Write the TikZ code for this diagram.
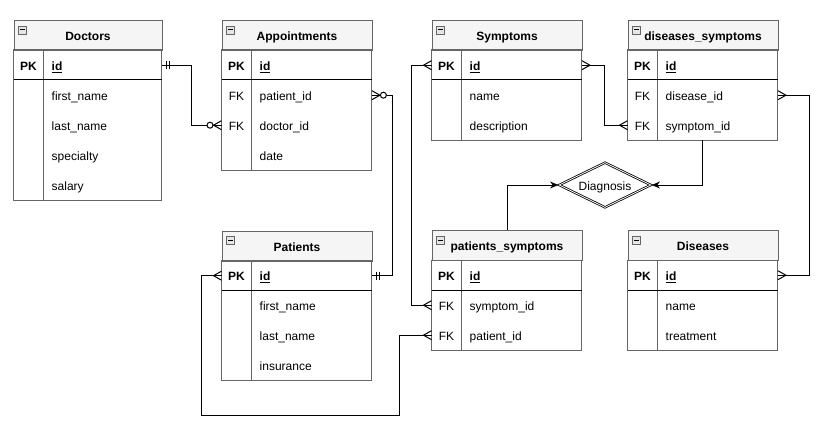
\documentclass[tikz,border=0pt]{standalone}
\usepackage{fontspec}
\setmainfont{Liberation Sans}
\usetikzlibrary{shapes.geometric,arrows.meta,calc}
\definecolor{tborder}{HTML}{666666}
\definecolor{thead}{HTML}{F5F5F5}
\definecolor{iconfill}{HTML}{E6E6E6}
\tikzset{
  hdr/.style={draw=tborder, fill=thead, line width=1pt, minimum height=30pt, inner sep=0pt,
    font=\fontsize{12}{14}\selectfont\bfseries, text height=10.2pt, text depth=0pt},
  rowbox/.style={minimum height=30pt, inner sep=0pt},
  keytxt/.style={inner sep=0pt, font=\fontsize{12}{14}\selectfont, text height=10.2pt, text depth=0pt},
  fldtxt/.style={keytxt, anchor=west},
  tline/.style={draw=tborder, line width=1pt},
  pkline/.style={draw=black, line width=1pt},
  conn/.style={draw=black, line width=1pt},
  arr/.style={conn, -{Stealth[length=8pt,width=7pt,inset=2.5pt]}, shorten >=0.5pt},
  iconbox/.style={draw=tborder, fill=iconfill, line width=0.6pt},
  relshape/.style={diamond, aspect=2, draw=black, double, double distance=0.8pt, line width=0.8pt,
    minimum width=92pt, minimum height=45pt, inner sep=0pt,
    font=\fontsize{12}{14}\selectfont, text height=10.2pt, text depth=0pt}
}
% #1 name, #2 x, #3 y, #4 width, #5 title, #6 number of body rows
\newcommand{\ertable}[6]{%
  \node[hdr, minimum width=#4pt, anchor=north west] (#1) at (#2,#3) {#5};
  \draw[tline] (#2,{#3+30}) rectangle ({#2+#4},{#3+30+30*#6});
  \draw[tline] ({#2+30},{#3+30}) -- ({#2+30},{#3+30+30*#6});
  \draw[pkline] (#2,{#3+60}) -- ({#2+#4},{#3+60});
  \draw[iconbox] ({#2+5},{#3+6}) rectangle ({#2+13},{#3+14});
  \draw[black, line width=1pt] ({#2+6.8},{#3+10}) -- ({#2+11.2},{#3+10});
}
% #1 name, #2 x, #3 y (top of row), #4 width, #5 key, #6 field
\newcommand{\errow}[6]{%
  \node[rowbox, minimum width=#4pt, anchor=north west] (#1) at (#2,#3) {};
  \node[keytxt] (#1-k) at ([xshift=15pt]#1.west) {#5};
  \node[fldtxt] (#1-f) at ([xshift=38pt]#1.west) {#6};
}
\newcommand{\mkone}[2]{\begin{scope}[shift={(#1)},rotate=#2]\draw[conn] (4.5,-4)--(4.5,4) (7.5,-4)--(7.5,4);\end{scope}}
\newcommand{\mkmany}[2]{\begin{scope}[shift={(#1)},rotate=#2]\draw[conn] (0,-4.5)--(8,0)--(0,4.5);\end{scope}}
\newcommand{\mkzmany}[2]{\begin{scope}[shift={(#1)},rotate=#2]\draw[conn] (0,-4.5)--(8,0)--(0,4.5);\draw[conn,fill=white] (11.5,0) circle[radius=3pt];\end{scope}}
\newcommand{\pkid}{\textbf{\underline{id}}}
\begin{document}
\begin{tikzpicture}[x=1pt,y=-1pt]
\useasboundingbox[fill=white] (0,0) rectangle (822,428);

% Doctors
\ertable{doc}{13.5}{20}{148}{Doctors}{5}
\errow{doc-id}{13.5}{50}{148}{\textbf{PK}}{\pkid}
\errow{doc-fn}{13.5}{80}{148}{}{first\_name}
\errow{doc-ln}{13.5}{110}{148}{}{last\_name}
\errow{doc-sp}{13.5}{140}{148}{}{specialty}
\errow{doc-sa}{13.5}{170}{148}{}{salary}

% Appointments
\ertable{app}{221.5}{20}{150}{Appointments}{4}
\errow{app-id}{221.5}{50}{150}{\textbf{PK}}{\pkid}
\errow{app-pid}{221.5}{80}{150}{FK}{patient\_id}
\errow{app-did}{221.5}{110}{150}{FK}{doctor\_id}
\errow{app-dt}{221.5}{140}{150}{}{date}

% Symptoms
\ertable{sym}{431.5}{20}{150}{Symptoms}{3}
\errow{sym-id}{431.5}{50}{150}{\textbf{PK}}{\pkid}
\errow{sym-nm}{431.5}{80}{150}{}{name}
\errow{sym-ds}{431.5}{110}{150}{}{description}

% diseases_symptoms
\ertable{ds}{627.5}{20}{150}{diseases\_symptoms}{3}
\errow{ds-id}{627.5}{50}{150}{\textbf{PK}}{\pkid}
\errow{ds-did}{627.5}{80}{150}{FK}{disease\_id}
\errow{ds-sid}{627.5}{110}{150}{FK}{symptom\_id}

% Patients
\ertable{pat}{221.5}{230.5}{150}{Patients}{4}
\errow{pat-id}{221.5}{260.5}{150}{\textbf{PK}}{\pkid}
\errow{pat-fn}{221.5}{290.5}{150}{}{first\_name}
\errow{pat-ln}{221.5}{320.5}{150}{}{last\_name}
\errow{pat-in}{221.5}{350.5}{150}{}{insurance}

% patients_symptoms
\ertable{ps}{431.5}{230}{150}{patients\_symptoms}{3}
\errow{ps-id}{431.5}{260}{150}{\textbf{PK}}{\pkid}
\errow{ps-sid}{431.5}{290}{150}{FK}{symptom\_id}
\errow{ps-pid}{431.5}{320}{150}{FK}{patient\_id}

% Diseases
\ertable{dis}{627.5}{230}{150}{Diseases}{3}
\errow{dis-id}{627.5}{260}{150}{\textbf{PK}}{\pkid}
\errow{dis-nm}{627.5}{290}{150}{}{name}
\errow{dis-tr}{627.5}{320}{150}{}{treatment}

% Diagnosis
\node[relshape] (diag) at (605,185) {Diagnosis};

% connectors
\draw[conn] (doc-id.east) -- ++(30,0) |- (app-did.west);
\draw[conn] (app-pid.east) -- ++(21,0) |- (pat-id.east);
\draw[conn] (sym-id.west) -- ++(-20,0) |- (ps-sid.west);
\coordinate (loopA) at (399.5,415);
\coordinate (loopB) at (201.5,415);
\draw[conn] (ps-pid.west) -| (loopA) -- (loopB) |- (pat-id.west);
\draw[conn] (sym-id.east) -- ++(23,0) |- (ds-sid.west);
\draw[conn] (ds-did.east) -- ++(32,0) |- (dis-id.east);
\draw[arr] (ps.north) |- (diag.west);
\draw[arr] (ds-sid.south) |- (diag.east);

% markers
\mkone{doc-id.east}{0}
\mkzmany{app-did.west}{180}
\mkzmany{app-pid.east}{0}
\mkone{pat-id.east}{0}
\mkmany{sym-id.west}{180}
\mkmany{ps-sid.west}{180}
\mkmany{ps-pid.west}{180}
\mkmany{pat-id.west}{180}
\mkmany{sym-id.east}{0}
\mkmany{ds-sid.west}{180}
\mkmany{ds-did.east}{0}
\mkmany{dis-id.east}{0}
\end{tikzpicture}
\end{document}
